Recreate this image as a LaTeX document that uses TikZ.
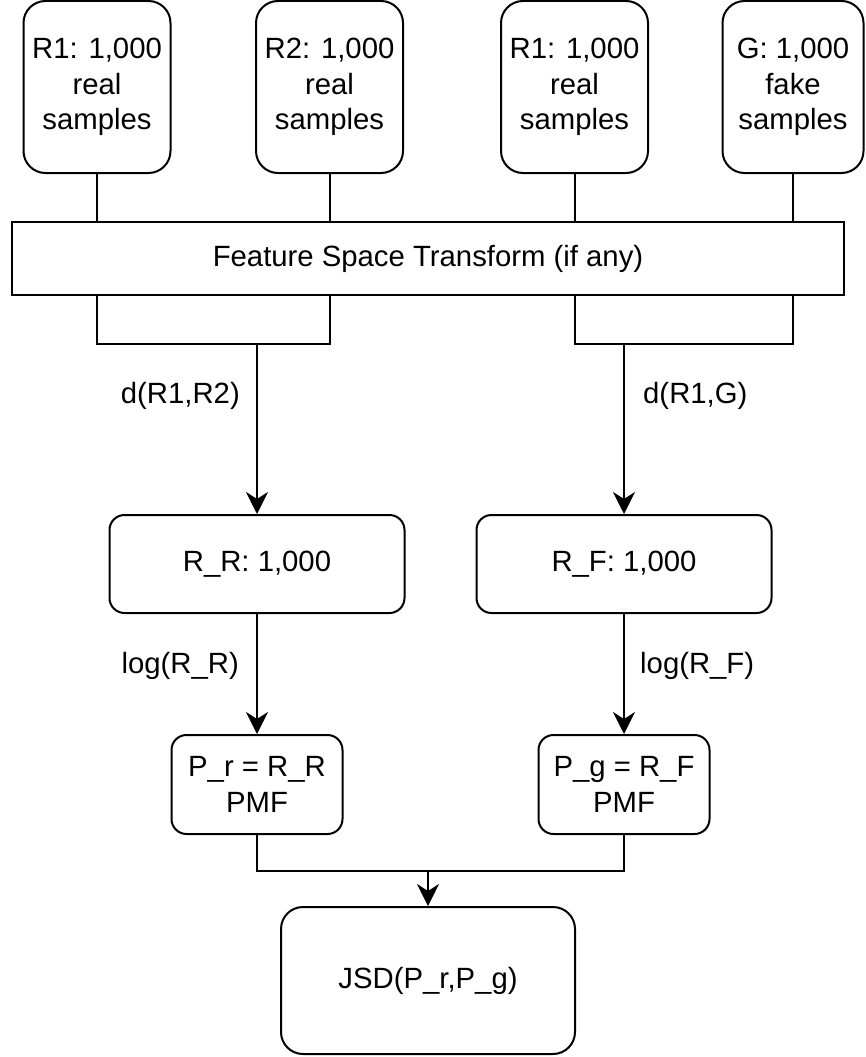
\documentclass[tikz,border=0pt]{standalone}
\usepackage{fontspec}
\setmainfont{Liberation Sans}
\usetikzlibrary{arrows.meta,calc}
\begin{document}
\begin{tikzpicture}[x=1pt,y=-1pt,
  every node/.style={font=\fontsize{29.3}{35.2}\selectfont, inner sep=0pt},
  sample/.style={draw, line width=2pt, rounded corners=22pt, minimum width=147pt, minimum height=172pt, align=center},
  stagebox/.style={draw, line width=2pt, rounded corners=15pt, align=center},
  link/.style={line width=2pt},
  arr/.style={line width=2pt, -{Stealth[length=22pt,width=22pt,inset=7pt]}},
  lbl/.style={fill=white}]
\useasboundingbox (0,0) rectangle (865,1057);

% input sample sets
\node[sample] (b1) at (97,87) {R1: 1,000\\real\\samples};
\node[sample] (b2) at (329.5,87) {R2: 1,000\\real\\samples};
\node[sample] (b3) at (574.5,87) {R1: 1,000\\real\\samples};
\node[sample, minimum width=141pt] (b4) at (793,87) {G: 1,000\\fake\\samples};

% shared transform
\node[draw, line width=2pt, minimum width=832pt, minimum height=73pt] (fst) at (428,258.5) {Feature Space Transform (if any)};

\foreach \b in {b1,b2,b3,b4} \draw[link] (\b.south) -- (\b.south |- fst.north);

% distance ratios
\node[stagebox, minimum width=295pt, minimum height=98pt] (rr) at (257,564) {R\_R: 1,000};
\node[stagebox, minimum width=295pt, minimum height=98pt] (rf) at (624,564) {R\_F: 1,000};

\coordinate (m1) at (257,344);
\coordinate (m2) at (624,344);
\draw[link] (fst.south -| b1.south) |- (m1) -| (fst.south -| b2.south);
\draw[link] (fst.south -| b3.south) |- (m2) -| (fst.south -| b4.south);
\draw[arr] (m1) -- (rr.north);
\draw[arr] (m2) -- (rf.north);
\node[anchor=east] (l1) at (240,396) {d(R1,R2)};
\node[anchor=west] (l2) at (643,396) {d(R1,G)};

% probability mass functions
\node[stagebox, minimum width=171pt, minimum height=99pt] (pr) at (257,784.5) {P\_r = R\_R\\PMF};
\node[stagebox, minimum width=171pt, minimum height=99pt] (pg) at (624,784.5) {P\_g = R\_F\\PMF};
\draw[arr] (rr.south) -- (pr.north);
\draw[arr] (rf.south) -- (pg.north);
\node[anchor=east] (l3) at (239,666) {log(R\_R)};
\node[anchor=west] (l4) at (640,666) {log(R\_F)};

% divergence
\node[draw, line width=2pt, rounded corners=22pt, minimum width=294pt, minimum height=147pt] (jsd) at (428,980.5) {JSD(P\_r,P\_g)};
\coordinate (m3) at (428,871);
\draw[link] (pr.south) |- (m3) -| (pg.south);
\draw[arr] (m3) -- (jsd.north);
\end{tikzpicture}
\end{document}
